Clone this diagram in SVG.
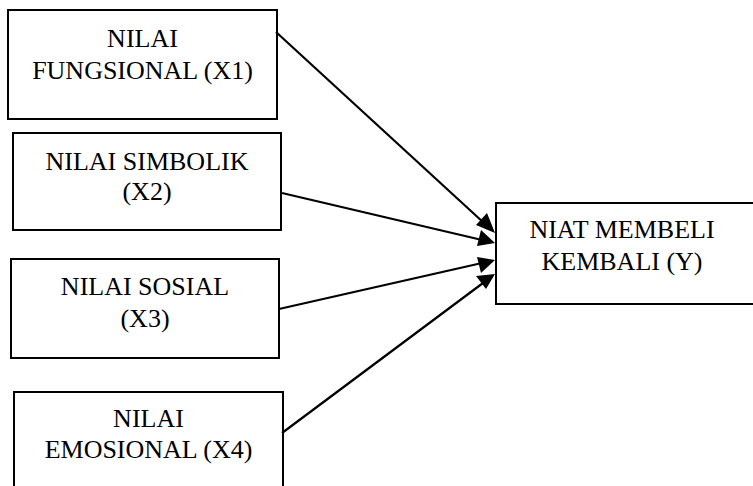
<svg xmlns="http://www.w3.org/2000/svg" width="753" height="486" viewBox="0 0 753 486">
<style>
.box{fill:#fff;stroke:#000;stroke-width:2}
.t{font-family:'Liberation Serif','Times New Roman',serif;font-size:26px;fill:#000;text-anchor:middle}
.c{stroke:#000;stroke-width:2.2;fill:none}
.h{fill:#000;stroke:none}
</style>
<rect width="753" height="486" fill="#fff"/>
<g id="x1">
<rect class="box" x="8" y="10" width="269" height="109"/>
<text class="t" x="142.5" y="47">NILAI</text>
<text class="t" x="142.5" y="79">FUNGSIONAL (X1)</text>
</g>
<g id="x2">
<rect class="box" x="13" y="133" width="268" height="97"/>
<text class="t" x="147" y="170">NILAI SIMBOLIK</text>
<text class="t" x="147" y="200">(X2)</text>
</g>
<g id="x3">
<rect class="box" x="11" y="259" width="268" height="99"/>
<text class="t" x="145" y="295">NILAI SOSIAL</text>
<text class="t" x="145" y="327">(X3)</text>
</g>
<g id="x4">
<rect class="box" x="14" y="392" width="269" height="100"/>
<text class="t" x="148.5" y="427">NILAI</text>
<text class="t" x="148.5" y="458">EMOSIONAL (X4)</text>
</g>
<g id="y">
<rect class="box" x="496" y="203" width="262" height="101"/>
<text class="t" x="622" y="238">NIAT MEMBELI</text>
<text class="t" x="622" y="270">KEMBALI (Y)</text>
</g>
<g id="connectors">
<line class="c" x1="276" y1="32" x2="484" y2="223"/>
<line class="c" x1="282" y1="193" x2="482" y2="240"/>
<line class="c" x1="279" y1="309" x2="482" y2="263"/>
<line class="c" x1="282" y1="433" x2="483" y2="283"/>
<polygon class="h" points="495,233 476,225 487,213"/>
<polygon class="h" points="495,243 477,246 481,230"/>
<polygon class="h" points="495,260 477,257 481,273"/>
<polygon class="h" points="495,274 486,289 476,276"/>
</g>
</svg>
